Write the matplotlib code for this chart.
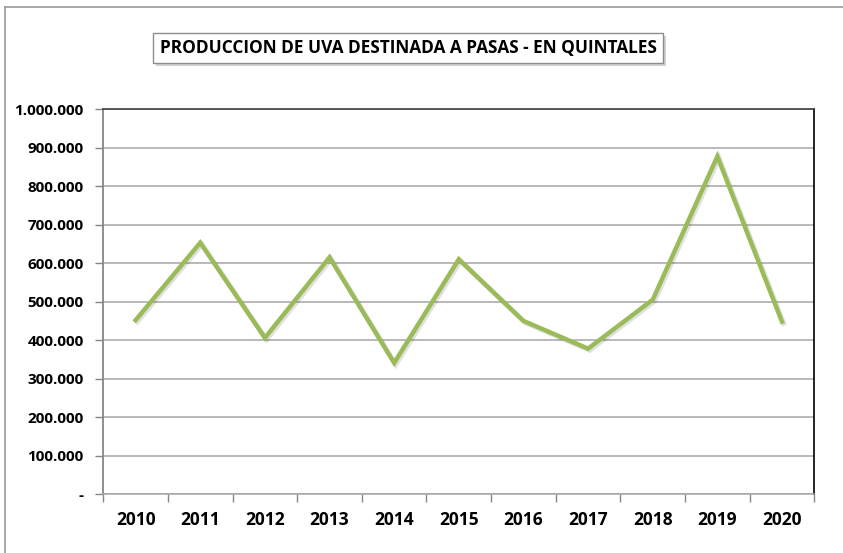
import matplotlib
matplotlib.use("Agg")
import matplotlib.pyplot as plt
from matplotlib import font_manager
from matplotlib.patches import Rectangle
from matplotlib.lines import Line2D
from matplotlib.ticker import FuncFormatter
import matplotlib.patheffects as pe
import numpy as np

years = ["2010", "2011", "2012", "2013", "2014", "2015",
         "2016", "2017", "2018", "2019", "2020"]
quintales = [452000, 653000, 406000, 615000, 341000, 610000,
             450000, 378000, 505000, 877000, 448000]
y_ticks = [0, 100000, 200000, 300000, 400000, 500000,
           600000, 700000, 800000, 900000, 1000000]
title = "PRODUCCION DE UVA DESTINADA A PASAS - EN QUINTALES"


def pick_font(candidates):
    for name in candidates:
        try:
            font_manager.findfont(name, fallback_to_default=False)
            return name
        except Exception:
            continue
    return "DejaVu Sans"


FONT = pick_font(["Liberation Sans Narrow", "Open Sans", "DejaVu Sans"])
plt.rcParams["font.family"] = [FONT, "DejaVu Sans"]

W, H = 843, 553
fig = plt.figure(figsize=(W / 100, H / 100), dpi=100)


def fx(px):
    return px / W


def fy(py):
    return 1 - py / H


# outer chart frame
fig.add_artist(Line2D([fx(5), fx(5)], [fy(7), fy(560)], transform=fig.transFigure,
                      color="#9a9a9a", lw=1.2))
fig.add_artist(Line2D([fx(5), fx(850)], [fy(7), fy(7)], transform=fig.transFigure,
                      color="#9a9a9a", lw=1.2))

ax = fig.add_axes([fx(103.3), fy(494.3), fx(814.3) - fx(103.3), fy(109) - fy(494.3)])

x = np.arange(len(years))
ax.set_xlim(-0.5, len(years) - 0.5)
ax.set_ylim(0, 1000000)

ax.set_yticks(y_ticks)
ax.yaxis.grid(True, color="#a6a6a6", lw=1.1)
ax.set_axisbelow(True)


def fmt(v, pos):
    if v == 0:
        return "-"
    return f"{int(v):,}".replace(",", ".")


ax.yaxis.set_major_formatter(FuncFormatter(fmt))

ax.plot(x, quintales, color="#9bbb59", lw=3.2, solid_joinstyle="miter", zorder=3,
        path_effects=[pe.SimpleLineShadow(offset=(1.2, -1.2), shadow_color="black",
                                          alpha=0.12, linewidth=3.6),
                      pe.Normal()])

# category ticks on boundaries
ax.set_xticks(np.arange(-0.5, len(years), 1.0))
ax.set_xticklabels([])
ax.set_xticks(x, minor=True)
ax.set_xticklabels(years, minor=True)
ax.tick_params(axis="x", which="major", length=6, color="#868686", width=1)
ax.tick_params(axis="x", which="minor", length=0, pad=12, labelsize=12.5)
ax.tick_params(axis="y", length=6, color="#868686", width=1, labelsize=11, pad=8)
for lab in ax.get_xticklabels(minor=True) + ax.get_yticklabels():
    lab.set_fontweight("bold")

ax.spines["left"].set_color("#868686")
ax.spines["left"].set_linewidth(1.3)
ax.spines["bottom"].set_color("#a6a6a6")
ax.spines["bottom"].set_linewidth(1.1)
ax.spines["top"].set_color("#404040")
ax.spines["top"].set_linewidth(1.2)
ax.spines["right"].set_color("#000000")
ax.spines["right"].set_linewidth(1.2)

# title box with drop shadow
bx0, by0, bx1, by1 = 153, 33, 663, 63
fig.add_artist(Rectangle((fx(bx0 + 3), fy(by1 + 3)), fx(bx1) - fx(bx0), fy(by0) - fy(by1),
                         transform=fig.transFigure, facecolor="#000000", alpha=0.18,
                         edgecolor="none", zorder=1))
fig.add_artist(Rectangle((fx(bx0), fy(by1)), fx(bx1) - fx(bx0), fy(by0) - fy(by1),
                         transform=fig.transFigure, facecolor="white",
                         edgecolor="#8c8c8c", lw=1, zorder=2))
fig.text(fx((bx0 + bx1) / 2), fy((by0 + by1) / 2), title, ha="center", va="center",
         fontsize=12.4, fontweight="bold", color="#000000", zorder=3)

fig.savefig("out.png", dpi=100)
